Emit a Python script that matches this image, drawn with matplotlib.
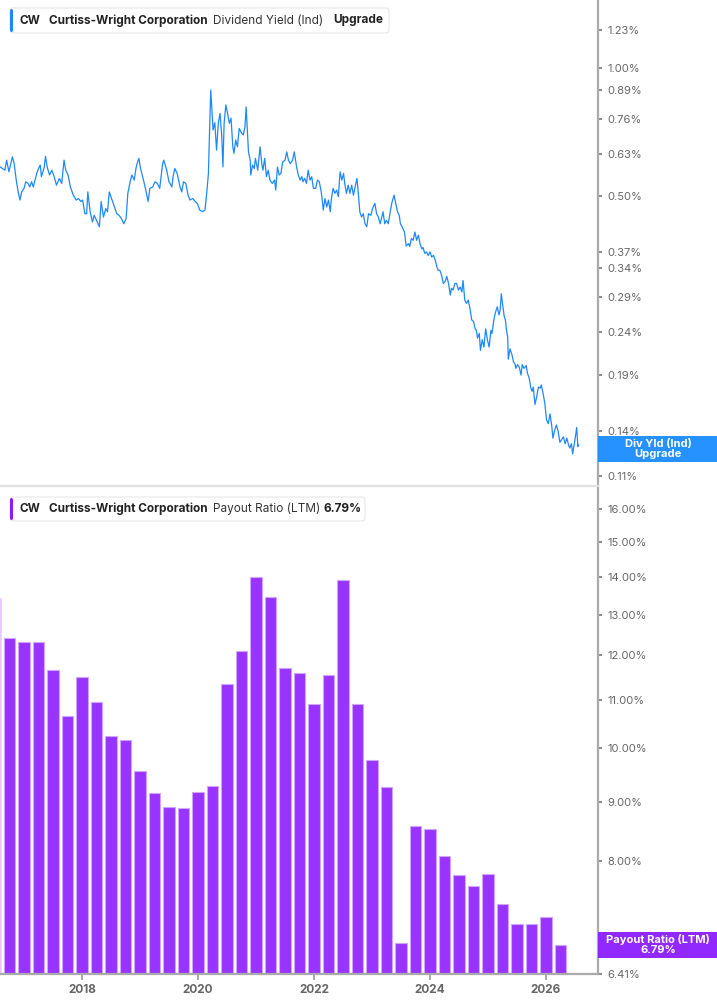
import matplotlib.pyplot as plt
import matplotlib.patches as mpatches
from matplotlib.ticker import NullLocator
import numpy as np

plt.rcParams['font.family'] = ['Inter', 'DejaVu Sans']

# Dividend yield (Ind), % -- decimal year / value
yield_t = [
    2016.59, 2016.63, 2016.67, 2016.70, 2016.74, 2016.78, 2016.80, 2016.83, 2016.87, 2016.90,
    2016.93, 2016.96, 2017.00, 2017.03, 2017.07, 2017.10, 2017.13, 2017.16, 2017.19, 2017.22,
    2017.25, 2017.28, 2017.30, 2017.35, 2017.37, 2017.40, 2017.44, 2017.48, 2017.52, 2017.56,
    2017.61, 2017.65, 2017.69, 2017.72, 2017.76, 2017.80, 2017.85, 2017.90, 2017.94, 2017.98,
    2018.01, 2018.05, 2018.08, 2018.10, 2018.14, 2018.18, 2018.21, 2018.25, 2018.30, 2018.33,
    2018.37, 2018.41, 2018.44, 2018.47, 2018.51, 2018.55, 2018.60, 2018.64, 2018.68, 2018.72,
    2018.76, 2018.79, 2018.83, 2018.86, 2018.90, 2018.93, 2018.95, 2018.98, 2019.01, 2019.06,
    2019.10, 2019.14, 2019.17, 2019.22, 2019.26, 2019.30, 2019.34, 2019.39, 2019.41, 2019.46,
    2019.50, 2019.55, 2019.57, 2019.60, 2019.64, 2019.69, 2019.72, 2019.75, 2019.79, 2019.83,
    2019.86, 2019.91, 2019.95, 2019.99, 2020.03, 2020.08, 2020.12, 2020.15, 2020.18, 2020.19,
    2020.22, 2020.24, 2020.26, 2020.29, 2020.32, 2020.35, 2020.38, 2020.41, 2020.43, 2020.45,
    2020.48, 2020.51, 2020.54, 2020.57, 2020.60, 2020.62, 2020.65, 2020.68, 2020.71, 2020.75,
    2020.78, 2020.81, 2020.83, 2020.85, 2020.87, 2020.90, 2020.91, 2020.94, 2020.97, 2020.99,
    2021.03, 2021.07, 2021.10, 2021.12, 2021.15, 2021.18, 2021.21, 2021.24, 2021.28, 2021.32,
    2021.34, 2021.37, 2021.40, 2021.43, 2021.46, 2021.50, 2021.53, 2021.56, 2021.59, 2021.63,
    2021.66, 2021.70, 2021.73, 2021.76, 2021.79, 2021.81, 2021.84, 2021.87, 2021.90, 2021.93,
    2021.96, 2021.99, 2022.03, 2022.06, 2022.09, 2022.12, 2022.14, 2022.16, 2022.19, 2022.22,
    2022.25, 2022.28, 2022.30, 2022.33, 2022.36, 2022.39, 2022.42, 2022.45, 2022.48, 2022.51,
    2022.53, 2022.56, 2022.59, 2022.62, 2022.65, 2022.68, 2022.71, 2022.74, 2022.76, 2022.79,
    2022.82, 2022.85, 2022.88, 2022.91, 2022.94, 2022.98, 2023.01, 2023.05, 2023.08, 2023.11,
    2023.14, 2023.17, 2023.19, 2023.22, 2023.25, 2023.28, 2023.31, 2023.34, 2023.38, 2023.41,
    2023.44, 2023.47, 2023.49, 2023.52, 2023.56, 2023.59, 2023.63, 2023.65, 2023.68, 2023.71,
    2023.74, 2023.77, 2023.80, 2023.83, 2023.86, 2023.88, 2023.91, 2023.94, 2023.97, 2024.00,
    2024.03, 2024.06, 2024.09, 2024.12, 2024.14, 2024.17, 2024.20, 2024.23, 2024.26, 2024.29,
    2024.32, 2024.35, 2024.37, 2024.40, 2024.43, 2024.46, 2024.49, 2024.52, 2024.55, 2024.57,
    2024.60, 2024.63, 2024.66, 2024.69, 2024.72, 2024.75, 2024.78, 2024.80, 2024.82, 2024.85,
    2024.87, 2024.90, 2024.93, 2024.96, 2024.99, 2025.02, 2025.05, 2025.07, 2025.10, 2025.13,
    2025.16, 2025.19, 2025.21, 2025.23, 2025.25, 2025.28, 2025.30, 2025.32, 2025.34, 2025.35,
    2025.38, 2025.41, 2025.44, 2025.47, 2025.48, 2025.51, 2025.54, 2025.57, 2025.59, 2025.62,
    2025.66, 2025.68, 2025.71, 2025.74, 2025.76, 2025.78, 2025.81, 2025.84, 2025.87, 2025.90,
    2025.92, 2025.95, 2025.98, 2026.01, 2026.04, 2026.07, 2026.10, 2026.12, 2026.15, 2026.18,
    2026.21, 2026.24, 2026.27, 2026.30, 2026.33, 2026.36, 2026.39, 2026.41, 2026.44, 2026.46,
    2026.48, 2026.50, 2026.53, 2026.55, 2026.56,
]
yield_v = [
    0.586, 0.581, 0.576, 0.608, 0.571, 0.602, 0.619, 0.597, 0.541, 0.512,
    0.490, 0.512, 0.522, 0.541, 0.536, 0.526, 0.541, 0.526, 0.546, 0.566,
    0.581, 0.592, 0.556, 0.586, 0.621, 0.586, 0.561, 0.576, 0.556, 0.531,
    0.551, 0.536, 0.608, 0.576, 0.561, 0.526, 0.503, 0.490, 0.494, 0.486,
    0.490, 0.455, 0.455, 0.512, 0.460, 0.435, 0.451, 0.439, 0.424, 0.486,
    0.447, 0.468, 0.460, 0.512, 0.494, 0.477, 0.455, 0.451, 0.443, 0.431,
    0.443, 0.508, 0.541, 0.561, 0.546, 0.581, 0.597, 0.614, 0.581, 0.546,
    0.517, 0.486, 0.522, 0.526, 0.541, 0.536, 0.522, 0.597, 0.608, 0.576,
    0.541, 0.526, 0.556, 0.581, 0.566, 0.526, 0.512, 0.541, 0.536, 0.503,
    0.490, 0.494, 0.486, 0.481, 0.464, 0.460, 0.464, 0.508, 0.566, 0.642,
    0.889, 0.798, 0.716, 0.745, 0.642, 0.742, 0.783, 0.691, 0.586, 0.742,
    0.820, 0.783, 0.742, 0.763, 0.654, 0.631, 0.678, 0.654, 0.722, 0.704,
    0.697, 0.728, 0.811, 0.716, 0.636, 0.608, 0.561, 0.592, 0.581, 0.614,
    0.576, 0.654, 0.597, 0.576, 0.614, 0.556, 0.576, 0.546, 0.536, 0.546,
    0.517, 0.586, 0.561, 0.566, 0.602, 0.608, 0.636, 0.608, 0.597, 0.608,
    0.636, 0.586, 0.561, 0.546, 0.556, 0.541, 0.551, 0.536, 0.576, 0.546,
    0.556, 0.522, 0.522, 0.546, 0.541, 0.517, 0.494, 0.464, 0.494, 0.472,
    0.490, 0.460, 0.494, 0.522, 0.508, 0.517, 0.499, 0.571, 0.546, 0.566,
    0.536, 0.508, 0.531, 0.508, 0.531, 0.503, 0.526, 0.551, 0.517, 0.460,
    0.447, 0.455, 0.431, 0.424, 0.455, 0.451, 0.468, 0.481, 0.455, 0.447,
    0.431, 0.447, 0.460, 0.431, 0.439, 0.431, 0.455, 0.481, 0.503, 0.481,
    0.460, 0.451, 0.431, 0.424, 0.412, 0.382, 0.387, 0.381, 0.398, 0.394,
    0.412, 0.394, 0.405, 0.386, 0.376, 0.379, 0.367, 0.370, 0.363, 0.370,
    0.360, 0.363, 0.354, 0.341, 0.335, 0.335, 0.326, 0.312, 0.315, 0.324,
    0.312, 0.293, 0.304, 0.301, 0.312, 0.312, 0.301, 0.306, 0.298, 0.317,
    0.285, 0.280, 0.285, 0.272, 0.256, 0.254, 0.244, 0.242, 0.232, 0.238,
    0.217, 0.230, 0.221, 0.244, 0.230, 0.221, 0.242, 0.238, 0.256, 0.267,
    0.275, 0.263, 0.270, 0.295, 0.280, 0.261, 0.256, 0.242, 0.233, 0.207,
    0.219, 0.213, 0.204, 0.201, 0.197, 0.201, 0.198, 0.190, 0.201, 0.197,
    0.200, 0.192, 0.187, 0.177, 0.174, 0.178, 0.162, 0.169, 0.178, 0.177,
    0.180, 0.172, 0.163, 0.149, 0.146, 0.154, 0.144, 0.135, 0.141, 0.145,
    0.140, 0.132, 0.134, 0.136, 0.131, 0.135, 0.130, 0.128, 0.131, 0.124,
    0.129, 0.134, 0.143, 0.129, 0.130,
]

# Payout ratio (LTM), %, one bar per quarter starting Q2 2016
payout_start = 2016.5
payout_v = [13.44, 12.41, 12.32, 12.33, 11.65, 10.65, 11.51, 10.95, 10.24, 10.15,
            9.55, 9.15, 8.91, 8.89, 9.17, 9.28, 11.34, 12.11, 14.00, 13.46,
            11.71, 11.59, 10.91, 11.54, 13.93, 10.91, 9.77, 9.26, 6.81, 8.58,
            8.52, 8.08, 7.79, 7.62, 7.81, 7.36, 7.07, 7.07, 7.17, 6.79]
payout_t = payout_start + 0.25 * np.arange(len(payout_v))

yield_ticks = [1.23, 1.00, 0.89, 0.76, 0.63, 0.50, 0.37, 0.34, 0.29, 0.24, 0.19, 0.14, 0.11]
payout_ticks = [16.0, 15.0, 14.0, 13.0, 12.0, 11.0, 10.0, 9.0, 8.0, 6.41]
year_ticks = [2018, 2020, 2022, 2024, 2026]

W, H = 717, 1005
BLUE = '#1e88fb'
PURPLE = '#9933ff'
GRAY_TXT = '#666666'

fig = plt.figure(figsize=(W / 100, H / 100), dpi=100)


def fx(px):
    return px / W


def fy(py):
    return 1 - py / H


ax1 = fig.add_axes([0, fy(486), fx(598), 486 / H])
ax2 = fig.add_axes([0, fy(974), fx(598), (974 - 488) / H])

# --- top: dividend yield line ---
ax1.plot(yield_t, yield_v, color=BLUE, lw=0.9)
ax1.set_yscale('log')
ax1.set_ylim(0.1042, 1.447)
ax1.set_xlim(2016.586, 2026.897)

# --- bottom: payout ratio bars ---
floor = 6.41
bars = ax2.bar(payout_t, np.array(payout_v) - floor, bottom=floor, width=0.2,
               color=PURPLE, edgecolor='#cfa6ff', linewidth=0.8)
bars[0].set_alpha(0.25)  # quarter cut by the left edge
ax2.set_yscale('log')
ax2.set_ylim(floor, 16.68)
ax2.set_xlim(2016.586, 2026.897)

for ax, ticks in ((ax1, yield_ticks), (ax2, payout_ticks)):
    ax.yaxis.tick_right()
    ax.set_yticks(ticks)
    ax.set_yticklabels([f'{t:.2f}%' for t in ticks])
    ax.yaxis.set_minor_locator(NullLocator())
    ax.tick_params(axis='y', length=3, width=1.2, color='#777777',
                   labelcolor=GRAY_TXT, labelsize=8, pad=4)
    for s in ('left', 'top'):
        ax.spines[s].set_visible(False)
    ax.spines['right'].set_color('#aaaaaa')
    ax.spines['right'].set_linewidth(1.6)
    ax.patch.set_alpha(0)

ax1.set_xticks([])
ax1.spines['bottom'].set_color('#e2e2e2')
ax1.spines['bottom'].set_linewidth(1.6)

ax2.set_xticks(year_ticks)
ax2.set_xticklabels([str(y) for y in year_ticks], fontweight='bold')
ax2.xaxis.set_minor_locator(NullLocator())
ax2.tick_params(axis='x', length=4, width=1.2, color='#999999',
                labelcolor=GRAY_TXT, labelsize=8.5, pad=3)
ax2.spines['bottom'].set_color('#aaaaaa')
ax2.spines['bottom'].set_linewidth(1.6)


# --- legend chips ---
def legend_chip(x0, x1, y0, y1, color, parts):
    fig.add_artist(mpatches.FancyBboxPatch(
        (fx(x0), fy(y1)), fx(x1 - x0), (y1 - y0) / H,
        boxstyle='round,pad=0,rounding_size=0.004', transform=fig.transFigure,
        facecolor='white', edgecolor='#e6e6e6', linewidth=0.8))
    fig.add_artist(mpatches.FancyBboxPatch(
        (fx(x0), fy(y1 - 1)), fx(3), (y1 - y0 - 2) / H,
        boxstyle='round,pad=0,rounding_size=0.002', transform=fig.transFigure,
        facecolor=color, edgecolor='none'))
    yc = (y0 + y1) / 2
    for xpos, txt, wt in parts:
        fig.text(fx(xpos), fy(yc), txt, fontsize=8.5, fontweight=wt,
                 color='#222222' if wt == 'bold' else '#333333',
                 ha='left', va='center')


legend_chip(10, 389, 8, 33, BLUE,
            [(20, 'CW', 'bold'), (49, 'Curtiss-Wright Corporation', 'bold'),
             (213, 'Dividend Yield (Ind)', 'normal'), (333, 'Upgrade', 'bold')])
legend_chip(10, 365, 497, 521, '#8a1cff',
            [(20, 'CW', 'bold'), (49, 'Curtiss-Wright Corporation', 'bold'),
             (213, 'Payout Ratio (LTM)', 'normal'), (323, f'{payout_v[-1]:.2f}%', 'bold')])


# --- last-value flags on the right axis ---
def value_flag(ax, value, color, lines, shift=0):
    disp_y = ax.transData.transform((ax.get_xlim()[1], value))[1]
    py = H - disp_y + shift
    fig.add_artist(mpatches.Rectangle(
        (fx(598), fy(py + 13)), 1 - fx(598), 26 / H, transform=fig.transFigure,
        facecolor=color, edgecolor='none', alpha=0.95))
    fig.text(fx(658), fy(py), '\n'.join(lines), color='white', fontsize=8,
             fontweight='bold', ha='center', va='center', linespacing=1.0)


value_flag(ax1, yield_v[-1], '#1a8cff', ['Div Yld (Ind)', 'Upgrade'], shift=4)
value_flag(ax2, payout_v[-1], '#8a1cff', ['Payout Ratio (LTM)', f'{payout_v[-1]:.2f}%'])

fig.savefig('out.png', dpi=100)
